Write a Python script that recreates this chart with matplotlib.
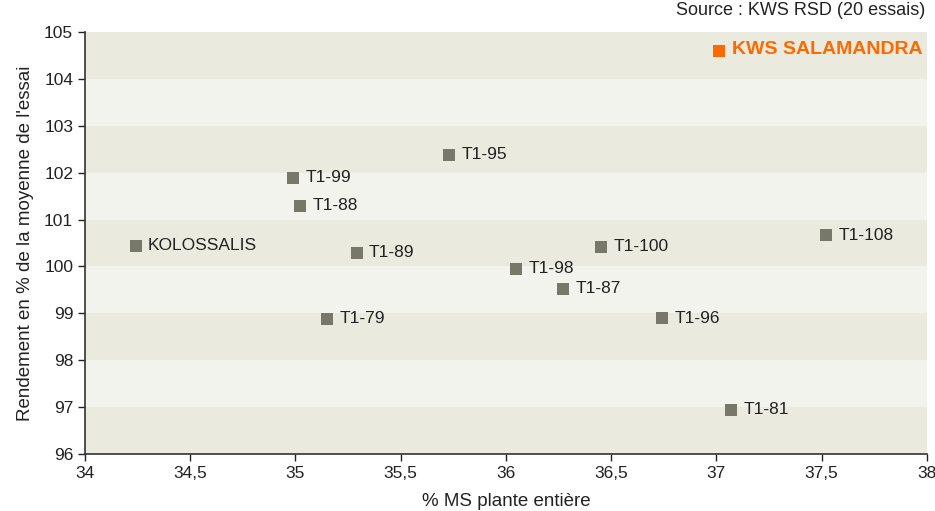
import matplotlib
matplotlib.use('Agg')
import matplotlib.pyplot as plt

plt.rcParams['font.family'] = ['Liberation Sans', 'DejaVu Sans']

# hybrides : % MS plante entiere / rendement en % de la moyenne
noms = ['T1-95', 'T1-99', 'T1-88', 'KOLOSSALIS', 'T1-89', 'T1-98', 'T1-100',
        'T1-87', 'T1-108', 'T1-79', 'T1-96', 'T1-81']
ms = [35.73, 34.99, 35.02, 34.24, 35.29, 36.05, 36.45, 36.27, 37.52, 35.15, 36.74, 37.07]
rdt = [102.38, 101.89, 101.29, 100.44, 100.29, 99.95, 100.42, 99.52, 100.67, 98.88, 98.90, 96.94]

ref_nom = 'KWS SALAMANDRA'
ref_ms = 37.01
ref_rdt = 104.59

xticks = [34, 34.5, 35, 35.5, 36, 36.5, 37, 37.5, 38]
yticks = [96, 97, 98, 99, 100, 101, 102, 103, 104, 105]

fig = plt.figure(figsize=(9.35, 5.11), dpi=100)
ax = fig.add_axes([0.0909, 0.1115, 0.9005, 0.826])

# bandes horizontales
for y in range(96, 105):
    col = '#eaeadf' if y % 2 == 0 else '#f3f3ee'
    ax.axhspan(y, y + 1, color=col, lw=0, zorder=0)

ax.scatter(ms, rdt, marker='s', s=64, color='#77786a', lw=0, zorder=3)
for n, x, y in zip(noms, ms, rdt):
    ax.annotate(n, (x, y), xytext=(9, 0), textcoords='offset points',
                va='center', ha='left', fontsize=12.5, color='#222222')

ax.scatter([ref_ms], [ref_rdt], marker='s', s=64, color='#ff6a00', lw=0, zorder=3)
ax.annotate(ref_nom, (ref_ms, ref_rdt), xytext=(10, 1), textcoords='offset points',
            va='center', ha='left', fontsize=14, color='#ff6a00', fontweight='bold')

ax.set_xlim(34, 38)
ax.set_ylim(96, 105)
ax.set_xticks(xticks)
ax.set_xticklabels([str(t).replace('.', ',') for t in xticks])
ax.set_yticks(yticks)
ax.tick_params(labelsize=12.5, colors='#222222', length=5, width=1)
for s in ['top', 'right']:
    ax.spines[s].set_visible(False)
for s in ['left', 'bottom']:
    ax.spines[s].set_color('#333333')
    ax.spines[s].set_linewidth(1.2)

ax.set_xlabel('% MS plante entière', fontsize=13.5, color='#222222', labelpad=9)
ax.set_ylabel("Rendement en % de la moyenne de l'essai", fontsize=13.5, color='#222222', labelpad=7)

fig.text(0.99, 0.997, 'Source : KWS RSD (20 essais)', ha='right', va='top',
         fontsize=13, color='#222222')

plt.savefig('out.png', dpi=100)
